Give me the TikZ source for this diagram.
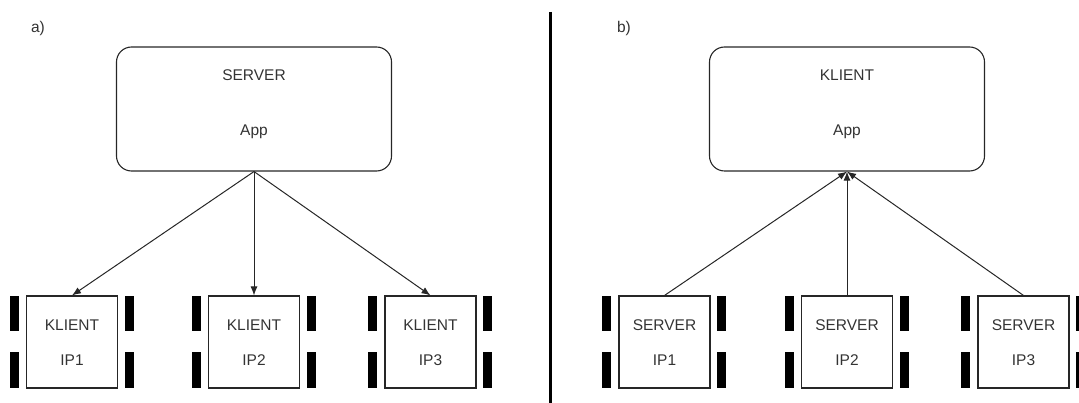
\documentclass[tikz,border=0pt]{standalone}
\usepackage{fontspec}
\setmainfont{Liberation Sans}
\usetikzlibrary{arrows.meta}
\begin{document}
\begin{tikzpicture}[x=1pt,y=-1pt,
  txt/.style={font=\fontsize{15.5}{17}\selectfont, text=black!80, inner sep=0pt},
  appbox/.style={draw=black!85, line width=1.1pt, rounded corners=15pt},
  hostbox/.style={draw=black!85, line width=1.1pt},
  bar/.style={fill=black},
  conn/.style={draw=black!85, line width=1pt},
  tip/.style={-{Latex[length=9pt,width=7pt]}}
]
\useasboundingbox (0,0) rectangle (1079,403);
% divider
\draw[line width=3.5pt] (550.5,12) -- (550.5,403);
% labels
\node[txt] (la) at (38,28) {a)};
\node[txt] (lb) at (624,28) {b)};

% ---------- part a ----------
\node[appbox, minimum width=275pt, minimum height=124pt] (srvA) at (254,109) {};
\node[txt] (srvAt) at (254,75) {SERVER};
\node[txt] (srvAa) at (254,132) {App};

\foreach \i/\cx/\ip in {1/72/IP1, 2/254/IP2, 3/430.5/IP3}{
  \node[hostbox, minimum width=91pt, minimum height=92pt] (ka\i) at (\cx,342) {};
  \node[txt] (ka\i t) at (\cx,325) {KLIENT};
  \node[txt] (ka\i i) at (\cx,360) {\ip};
  \fill[bar] (\cx-62.5,296) rectangle (\cx-53.5,331);
  \fill[bar] (\cx-62.5,352) rectangle (\cx-53.5,388);
  \fill[bar] (\cx+52.5,296) rectangle (\cx+61.5,331);
  \fill[bar] (\cx+52.5,352) rectangle (\cx+61.5,388);
}
\draw[conn,tip] (srvA.south) -- (ka1.north);
\draw[conn,tip] (srvA.south) -- (ka2.north);
\draw[conn,tip] (srvA.south) -- (ka3.north);

% ---------- part b ----------
\node[appbox, minimum width=275pt, minimum height=124pt] (klB) at (847,109) {};
\node[txt] (klBt) at (847,75) {KLIENT};
\node[txt] (klBa) at (847,132) {App};

\foreach \i/\cx/\ip in {1/664.5/IP1, 2/847/IP2, 3/1023.5/IP3}{
  \node[hostbox, minimum width=91pt, minimum height=92pt] (sb\i) at (\cx,342) {};
  \node[txt] (sb\i t) at (\cx,325) {SERVER};
  \node[txt] (sb\i i) at (\cx,360) {\ip};
  \fill[bar] (\cx-62.5,296) rectangle (\cx-53.5,331);
  \fill[bar] (\cx-62.5,352) rectangle (\cx-53.5,388);
  \fill[bar] (\cx+52.5,296) rectangle (\cx+61.5,331);
  \fill[bar] (\cx+52.5,352) rectangle (\cx+61.5,388);
}
\draw[conn,tip] (sb1.north) -- (klB.south);
\draw[conn,tip] (sb2.north) -- (klB.south);
\draw[conn,tip] (sb3.north) -- (klB.south);
\end{tikzpicture}
\end{document}
